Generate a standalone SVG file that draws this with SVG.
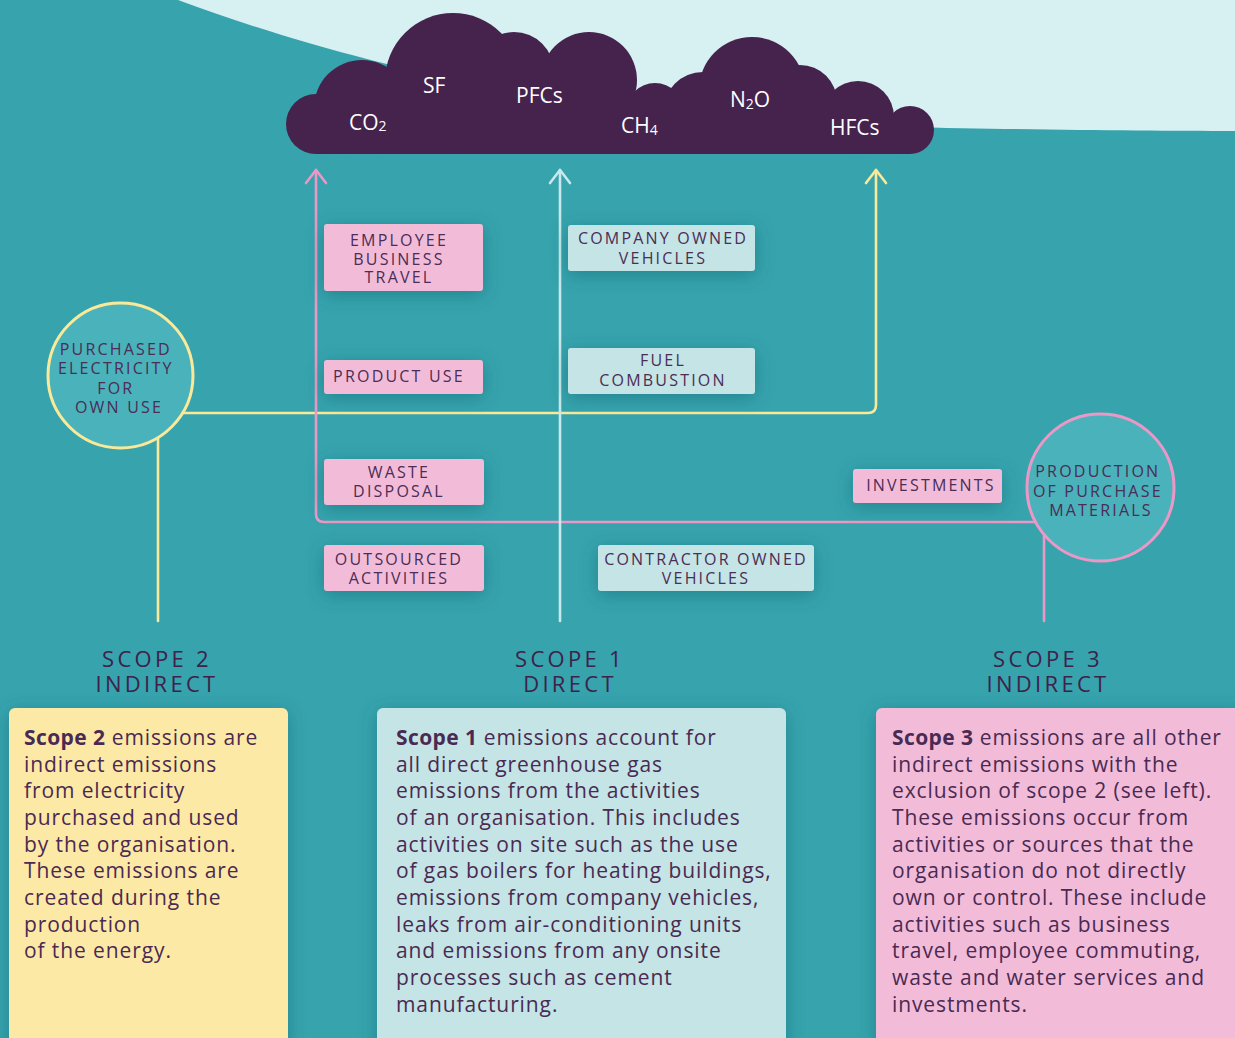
<svg xmlns="http://www.w3.org/2000/svg" width="1235" height="1038" viewBox="0 0 1235 1038">
  <style>
    .gas { font-family: "Open Sans", "Noto Sans", sans-serif; font-size: 21px; fill: #ffffff; }
    .sub { font-size: 14px; }
    .tag { font-family: "Open Sans", "Noto Sans", sans-serif; font-size: 16px; letter-spacing: 2.2px; fill: #4b2d55; text-anchor: middle; }
    .head { font-family: "Open Sans", "Noto Sans", sans-serif; font-size: 22px; font-weight: 500; letter-spacing: 3.3px; fill: #3f2149; text-anchor: middle; }
    .body { font-family: "Open Sans", "Noto Sans", sans-serif; font-size: 21px; letter-spacing: 0.9px; fill: #4a2a52; }
    .body .b { font-weight: 700; letter-spacing: 0.4px; }
    .pinkbox { fill: #f2bcd9; }
    .cyanbox { fill: #c4e4e6; }
    .line { fill: none; stroke-width: 2.6; stroke-linecap: round; stroke-linejoin: round; }
    .pink { stroke: #ec98c6; }
    .cyan { stroke: #c8e9eb; }
    .yellow { stroke: #fbe99a; }
    .hub { fill: #4ab2ba; stroke-width: 3; }
  </style>
  <defs>
    <filter id="soft" x="-40%" y="-60%" width="180%" height="220%">
      <feDropShadow dx="0" dy="4" stdDeviation="9" flood-color="#0d4f5a" flood-opacity="0.38"/>
    </filter>
    <clipPath id="cloudClip">
      <rect x="0" y="0" width="1235" height="154"/>
    </clipPath>
    <marker id="head-pink" viewBox="-16 -12 20 24" refX="0" refY="0" markerWidth="20" markerHeight="24" markerUnits="userSpaceOnUse" orient="auto">
      <path d="M-13,-10 L0,0 L-13,10" fill="none" stroke="#ec98c6" stroke-width="2.6" stroke-linecap="round" stroke-linejoin="round"/>
    </marker>
    <marker id="head-cyan" viewBox="-16 -12 20 24" refX="0" refY="0" markerWidth="20" markerHeight="24" markerUnits="userSpaceOnUse" orient="auto">
      <path d="M-13,-10 L0,0 L-13,10" fill="none" stroke="#c8e9eb" stroke-width="2.6" stroke-linecap="round" stroke-linejoin="round"/>
    </marker>
    <marker id="head-yellow" viewBox="-16 -12 20 24" refX="0" refY="0" markerWidth="20" markerHeight="24" markerUnits="userSpaceOnUse" orient="auto">
      <path d="M-13,-10 L0,0 L-13,10" fill="none" stroke="#fbe99a" stroke-width="2.6" stroke-linecap="round" stroke-linejoin="round"/>
    </marker>
  </defs>

  <!-- backdrop: teal field with pale sky in the top right -->
  <rect x="0" y="0" width="1235" height="1038" fill="#36a3ad"/>
  <path d="M178,0 C335,58 560,120 900,127 C1050,130 1150,131 1235,131 V0 Z" fill="#d7f1f2"/>

  <!-- greenhouse gas cloud: a row of puffs on a flat base -->
  <g id="cloud">
    <g clip-path="url(#cloudClip)" fill="#45234d">
      <rect x="316" y="100" width="574" height="54"/>
      <rect x="880" y="118" width="30" height="36"/>
      <circle cx="316" cy="124" r="30"/>
      <circle cx="362" cy="108" r="48"/>
      <circle cx="453" cy="81" r="68"/>
      <circle cx="514" cy="72" r="40"/>
      <circle cx="589" cy="80" r="48"/>
      <circle cx="655" cy="112" r="29"/>
      <circle cx="703" cy="112" r="40"/>
      <circle cx="752" cy="90" r="53"/>
      <circle cx="800" cy="102" r="37"/>
      <circle cx="858" cy="117" r="36"/>
      <circle cx="910" cy="130" r="24"/>
    </g>
    <text class="gas" x="349" y="130">CO<tspan class="sub" dy="1">2</tspan></text>
    <text class="gas" x="423" y="93">SF</text>
    <text class="gas" x="516" y="103">PFCs</text>
    <text class="gas" x="621" y="133">CH<tspan class="sub" dy="2">4</tspan></text>
    <text class="gas" x="730" y="107">N<tspan class="sub" dy="2">2</tspan><tspan dy="-2">O</tspan></text>
    <text class="gas" x="830" y="135">HFCs</text>
  </g>

  <!-- connectors -->
  <g id="connectors">
    <path class="line yellow" d="M150,413 H868 Q876,413 876,405 V170" marker-end="url(#head-yellow)"/>
    <path class="line yellow" d="M158,420 V621"/>
    <path class="line pink" d="M1060,522 H324 Q316,522 316,514 V170" marker-end="url(#head-pink)"/>
    <path class="line pink" d="M1044,520 V621"/>
    <path class="line cyan" d="M560,621 V170" marker-end="url(#head-cyan)"/>
  </g>

  <!-- source hubs -->
  <g id="purchased-electricity">
    <circle class="hub" cx="120.5" cy="375.5" r="72.5" stroke="#fbe99a"/>
    <text class="tag">
      <tspan x="119" y="355">PURCHASED</tspan>
      <tspan x="119" y="374">ELECTRICITY</tspan>
      <tspan x="119" y="394">FOR</tspan>
      <tspan x="119" y="413">OWN USE</tspan>
    </text>
  </g>
  <g id="production-of-purchase-materials">
    <circle class="hub" cx="1100.5" cy="487.5" r="73.5" stroke="#ec98c6"/>
    <text class="tag">
      <tspan x="1101" y="477">PRODUCTION</tspan>
      <tspan x="1101" y="497">OF PURCHASE</tspan>
      <tspan x="1101" y="516">MATERIALS</tspan>
    </text>
  </g>

  <!-- activity tags -->
  <g id="employee-business-travel">
    <rect class="pinkbox" x="324" y="224" width="159" height="67" rx="3" filter="url(#soft)"/>
    <text class="tag"><tspan x="399" y="246">EMPLOYEE</tspan><tspan x="399" y="264.5">BUSINESS</tspan><tspan x="399" y="283">TRAVEL</tspan></text>
  </g>
  <g id="product-use">
    <rect class="pinkbox" x="324" y="360" width="159" height="34" rx="3" filter="url(#soft)"/>
    <text class="tag" x="399" y="382">PRODUCT USE</text>
  </g>
  <g id="waste-disposal">
    <rect class="pinkbox" x="324" y="459" width="160" height="46" rx="3" filter="url(#soft)"/>
    <text class="tag"><tspan x="399" y="478">WASTE</tspan><tspan x="399" y="497">DISPOSAL</tspan></text>
  </g>
  <g id="outsourced-activities">
    <rect class="pinkbox" x="324" y="545" width="160" height="46" rx="3" filter="url(#soft)"/>
    <text class="tag"><tspan x="399" y="565">OUTSOURCED</tspan><tspan x="399" y="584">ACTIVITIES</tspan></text>
  </g>
  <g id="company-owned-vehicles">
    <rect class="cyanbox" x="568" y="225" width="187" height="46" rx="3" filter="url(#soft)"/>
    <text class="tag"><tspan x="663" y="244">COMPANY OWNED</tspan><tspan x="663" y="264">VEHICLES</tspan></text>
  </g>
  <g id="fuel-combustion">
    <rect class="cyanbox" x="568" y="348" width="187" height="46" rx="3" filter="url(#soft)"/>
    <text class="tag"><tspan x="663" y="366">FUEL</tspan><tspan x="663" y="386">COMBUSTION</tspan></text>
  </g>
  <g id="contractor-owned-vehicles">
    <rect class="cyanbox" x="598" y="545" width="216" height="46" rx="3" filter="url(#soft)"/>
    <text class="tag"><tspan x="706" y="565">CONTRACTOR OWNED</tspan><tspan x="706" y="584">VEHICLES</tspan></text>
  </g>
  <g id="investments">
    <rect class="pinkbox" x="853" y="469" width="149" height="34" rx="3" filter="url(#soft)"/>
    <text class="tag" x="931" y="491">INVESTMENTS</text>
  </g>

  <!-- scope 2 column -->
  <g id="scope-2">
    <text class="head" x="157" y="667">SCOPE 2</text>
    <text class="head" x="157" y="692">INDIRECT</text>
    <rect x="9" y="708" width="279" height="345" rx="6" fill="#fde9a6" filter="url(#soft)"/>
    <text class="body">
      <tspan x="24" y="745"><tspan class="b">Scope 2</tspan> emissions are</tspan>
      <tspan x="24" y="771.7">indirect emissions</tspan>
      <tspan x="24" y="798.3">from electricity</tspan>
      <tspan x="24" y="825">purchased and used</tspan>
      <tspan x="24" y="851.7">by the organisation.</tspan>
      <tspan x="24" y="878.3">These emissions are</tspan>
      <tspan x="24" y="905">created during the</tspan>
      <tspan x="24" y="931.7">production</tspan>
      <tspan x="24" y="958.3">of the energy.</tspan>
    </text>
  </g>

  <!-- scope 1 column -->
  <g id="scope-1">
    <text class="head" x="570" y="667">SCOPE 1</text>
    <text class="head" x="570" y="692">DIRECT</text>
    <rect x="377" y="708" width="409" height="345" rx="6" fill="#c4e4e6" filter="url(#soft)"/>
    <text class="body">
      <tspan x="396" y="745"><tspan class="b">Scope 1</tspan> emissions account for</tspan>
      <tspan x="396" y="771.7">all direct greenhouse gas</tspan>
      <tspan x="396" y="798.3">emissions from the activities</tspan>
      <tspan x="396" y="825">of an organisation. This includes</tspan>
      <tspan x="396" y="851.7">activities on site such as the use</tspan>
      <tspan x="396" y="878.3">of gas boilers for heating buildings,</tspan>
      <tspan x="396" y="905">emissions from company vehicles,</tspan>
      <tspan x="396" y="931.7">leaks from air-conditioning units</tspan>
      <tspan x="396" y="958.3">and emissions from any onsite</tspan>
      <tspan x="396" y="985">processes such as cement</tspan>
      <tspan x="396" y="1011.7">manufacturing.</tspan>
    </text>
  </g>

  <!-- scope 3 column -->
  <g id="scope-3">
    <text class="head" x="1048" y="667">SCOPE 3</text>
    <text class="head" x="1048" y="692">INDIRECT</text>
    <rect x="876" y="708" width="370" height="345" rx="6" fill="#f2bcd9" filter="url(#soft)"/>
    <text class="body">
      <tspan x="892" y="745"><tspan class="b">Scope 3</tspan> emissions are all other</tspan>
      <tspan x="892" y="771.7">indirect emissions with the</tspan>
      <tspan x="892" y="798.3">exclusion of scope 2 (see left).</tspan>
      <tspan x="892" y="825">These emissions occur from</tspan>
      <tspan x="892" y="851.7">activities or sources that the</tspan>
      <tspan x="892" y="878.3">organisation do not directly</tspan>
      <tspan x="892" y="905">own or control. These include</tspan>
      <tspan x="892" y="931.7">activities such as business</tspan>
      <tspan x="892" y="958.3">travel, employee commuting,</tspan>
      <tspan x="892" y="985">waste and water services and</tspan>
      <tspan x="892" y="1011.7">investments.</tspan>
    </text>
  </g>
</svg>
